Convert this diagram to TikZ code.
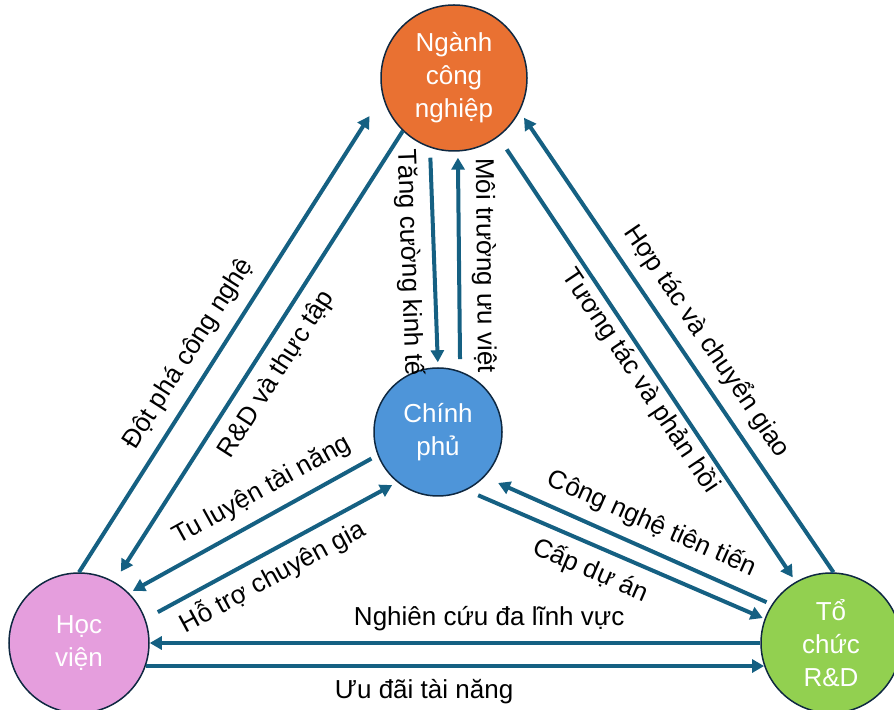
\documentclass[tikz,border=0pt]{standalone}
\usepackage{fontspec}
\setmainfont{Liberation Sans}
\usetikzlibrary{arrows.meta}
\definecolor{arrowblue}{HTML}{156082}
\definecolor{rimnavy}{HTML}{0E2841}
\definecolor{orangefill}{HTML}{E97132}
\definecolor{bluefill}{HTML}{4E95D9}
\definecolor{pinkfill}{HTML}{E59EDD}
\definecolor{greenfill}{HTML}{92D050}

\begin{document}
\begin{tikzpicture}[x=0.5pt,y=-0.5pt,
	party/.style={circle,draw=rimnavy,line width=0.75pt,inner sep=0pt,text=white,align=center,font=\fontsize{13}{16.5}\selectfont},
	link/.style={draw=arrowblue,line width=2pt,-{Triangle[length=6pt,width=6.5pt]}},
	tag/.style={sloped,font=\fontsize{13}{15}\selectfont,text height=10pt,text depth=3pt,inner sep=5pt}]
	\clip (0,0) rectangle (894,710);
	\node[party,fill=orangefill,minimum size=73pt] (nganh) at (454,78) {Ngành\\công\\nghiệp};
	\node[party,fill=bluefill,minimum size=64pt] (chinhphu) at (438,432) {Chính\\phủ};
	\node[party,fill=pinkfill,minimum size=70pt] (hocvien) at (79,643) {Học\\viện};
	\node[party,fill=greenfill,minimum size=70pt] (tochuc) at (831,643) {Tổ\\chức\\R\&D};
	\draw[link,shorten >=12pt] (hocvien.90) -- node[tag,pos=0.43,above] {Đột phá công nghệ} (nganh.194);
	\draw[link,shorten >=6pt] (nganh.226) -- node[tag,pos=0.51,below] {R\&D và thực tập} (hocvien.60.5);
	\draw[link,shorten <=5pt,shorten >=2.5pt] (nganh.-109.4) -- node[tag,pos=0.52,below] {Tăng cường kinh tế} (chinhphu.90.7);
	\draw[link,shorten <=6pt,shorten >=3pt] (chinhphu.70) -- node[tag,pos=0.48,above] {Môi trường ưu việt} (nganh.-87);
	\draw[link,shorten >=3.8pt] (tochuc.88) -- node[tag,pos=0.47,above] {Hợp tác và chuyển giao} (nganh.-27.6);
	\draw[link,shorten <=7.5pt,shorten >=2.6pt] (nganh.-53.2) -- node[tag,pos=0.527,below,inner sep=1.5pt] {Tương tác và phản hồi} (tochuc.120);
	\draw[link,shorten <=3.5pt,shorten >=2.2pt] (chinhphu.-159.3) -- node[tag,pos=0.415,above] {Tu luyện tài năng} (hocvien.45.4);
	\draw[link,shorten <=7pt,shorten >=2.9pt] (hocvien.20.3) -- node[tag,pos=0.46,below] {Hỗ trợ chuyên gia} (chinhphu.-129.7);
	\draw[link,shorten <=2.8pt,shorten >=7.4pt] (tochuc.147.4) -- node[tag,pos=0.453,above] {Công nghệ tiên tiến} (chinhphu.-44.7);
	\draw[link,shorten <=6.4pt,shorten >=1pt] (chinhphu.-64.8) -- node[tag,pos=0.45,below] {Cấp dự án} (tochuc.160);
	\draw[link] (tochuc.180) -- node[tag,pos=0.444,above] {Nghiên cứu đa lĩnh vực} (hocvien.0);
	\draw[link] (hocvien.-19) -- node[tag,pos=0.45,below] {Ưu đãi tài năng} (tochuc.199);
\end{tikzpicture}
\end{document}
